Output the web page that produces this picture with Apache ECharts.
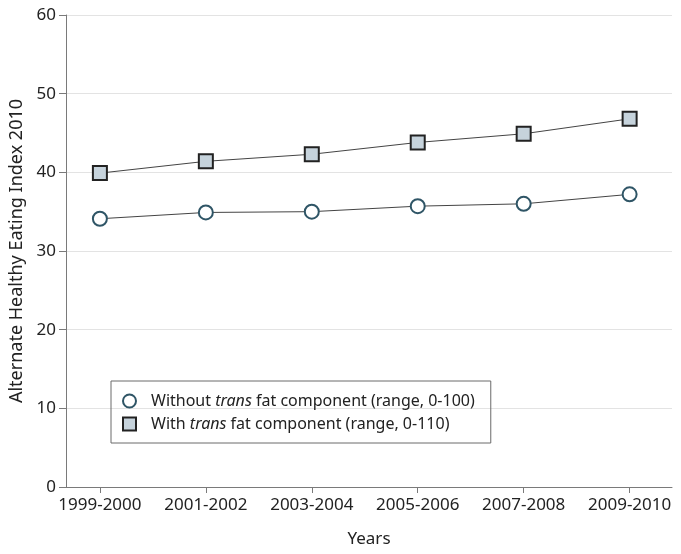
<!DOCTYPE html>
<html>
<head>
<meta charset="utf-8">
<script src="https://cdn.jsdelivr.net/npm/echarts@6/dist/echarts.min.js"></script>
<style>html,body{margin:0;padding:0;background:#fff}#c{width:681px;height:554px}</style>
</head>
<body>
<div id="c"></div>
<script>
var categories = ['1999-2000', '2001-2002', '2003-2004', '2005-2006', '2007-2008', '2009-2010'];
var withoutTrans = [34.1, 34.9, 35.0, 35.7, 36.0, 37.2];
var withTrans = [39.9, 41.4, 42.3, 43.8, 44.9, 46.8];
var yTicks = [0, 10, 20, 30, 40, 50, 60];
var seriesNames = ['Without trans fat component (range, 0-100)', 'With trans fat component (range, 0-110)'];

var FONT = 'Noto Sans';
var chart = echarts.init(document.getElementById('c'));
function pts(arr) { return arr.map(function (v, i) { return [i, v]; }); }
var idx = categories.map(function (c, i) { return i; });

chart.setOption({
  animation: false,
  backgroundColor: '#fff',
  textStyle: { fontFamily: FONT },
  grid: { left: 66, right: 9, top: 15, bottom: 67, containLabel: false, outerBoundsMode: 'none' },
  xAxis: {
    type: 'value', min: -0.32, max: 5.4,
    name: 'Years', nameLocation: 'middle', nameGap: 44,
    nameTextStyle: { fontFamily: FONT, fontSize: 17, color: '#222' },
    axisLine: { show: true, onZero: false, lineStyle: { color: '#7a7a7a', width: 1 } },
    axisTick: { show: true, customValues: idx, length: 6, lineStyle: { color: '#7a7a7a' } },
    axisLabel: { customValues: idx, margin: 10, fontFamily: FONT, fontSize: 17, color: '#222',
      formatter: function (v) { return categories[Math.round(v)]; } },
    splitLine: { show: false }
  },
  yAxis: {
    type: 'value', min: yTicks[0], max: yTicks[yTicks.length - 1], interval: 10,
    name: 'Alternate Healthy Eating Index 2010', nameLocation: 'middle', nameGap: 40,
    nameTextStyle: { fontFamily: FONT, fontSize: 18, color: '#222' },
    axisLine: { show: true, onZero: false, lineStyle: { color: '#7a7a7a', width: 1 } },
    axisTick: { show: true, length: 7, lineStyle: { color: '#7a7a7a' } },
    axisLabel: { margin: 10, fontFamily: FONT, fontSize: 17, color: '#222' },
    splitLine: { show: true, lineStyle: { color: '#e3e3e3', width: 1 } }
  },
  legend: {
    orient: 'vertical', left: 111, top: 381,
    padding: [10, 16, 9, 11],
    borderColor: '#6a6a6a', borderWidth: 1, borderRadius: 0,
    itemWidth: 13, itemHeight: 13, itemGap: 3,
    textStyle: { fontFamily: FONT, fontSize: 16, color: '#222', lineHeight: 20, padding: [0, 0, 0, 10],
      rich: {
        a: { fontFamily: FONT, fontSize: 16, color: '#222', lineHeight: 20 },
        i: { fontFamily: FONT, fontSize: 16, color: '#222', fontStyle: 'italic', lineHeight: 20 }
      } },
    formatter: function (name) {
      var parts = name.split('trans');
      return '{a|' + parts[0] + '}{i|trans}{a|' + parts[1] + '}';
    },
    data: [
      { name: seriesNames[0], icon: 'circle', itemStyle: { color: '#fff', borderColor: '#2f5566', borderWidth: 2 } },
      { name: seriesNames[1], icon: 'rect', itemStyle: { color: '#c6d3dc', borderColor: '#222', borderWidth: 2 } }
    ]
  },
  series: [
    {
      name: seriesNames[0], type: 'line', data: pts(withoutTrans),
      symbol: 'circle', symbolSize: 14,
      lineStyle: { color: '#444', width: 1 },
      itemStyle: { color: '#fff', borderColor: '#2f5566', borderWidth: 2 },
      z: 3
    },
    {
      name: seriesNames[1], type: 'line', data: pts(withTrans),
      symbol: 'rect', symbolSize: 14,
      lineStyle: { color: '#444', width: 1 },
      itemStyle: { color: '#c6d3dc', borderColor: '#222', borderWidth: 2 },
      z: 3
    }
  ]
});
</script>
</body>
</html>
